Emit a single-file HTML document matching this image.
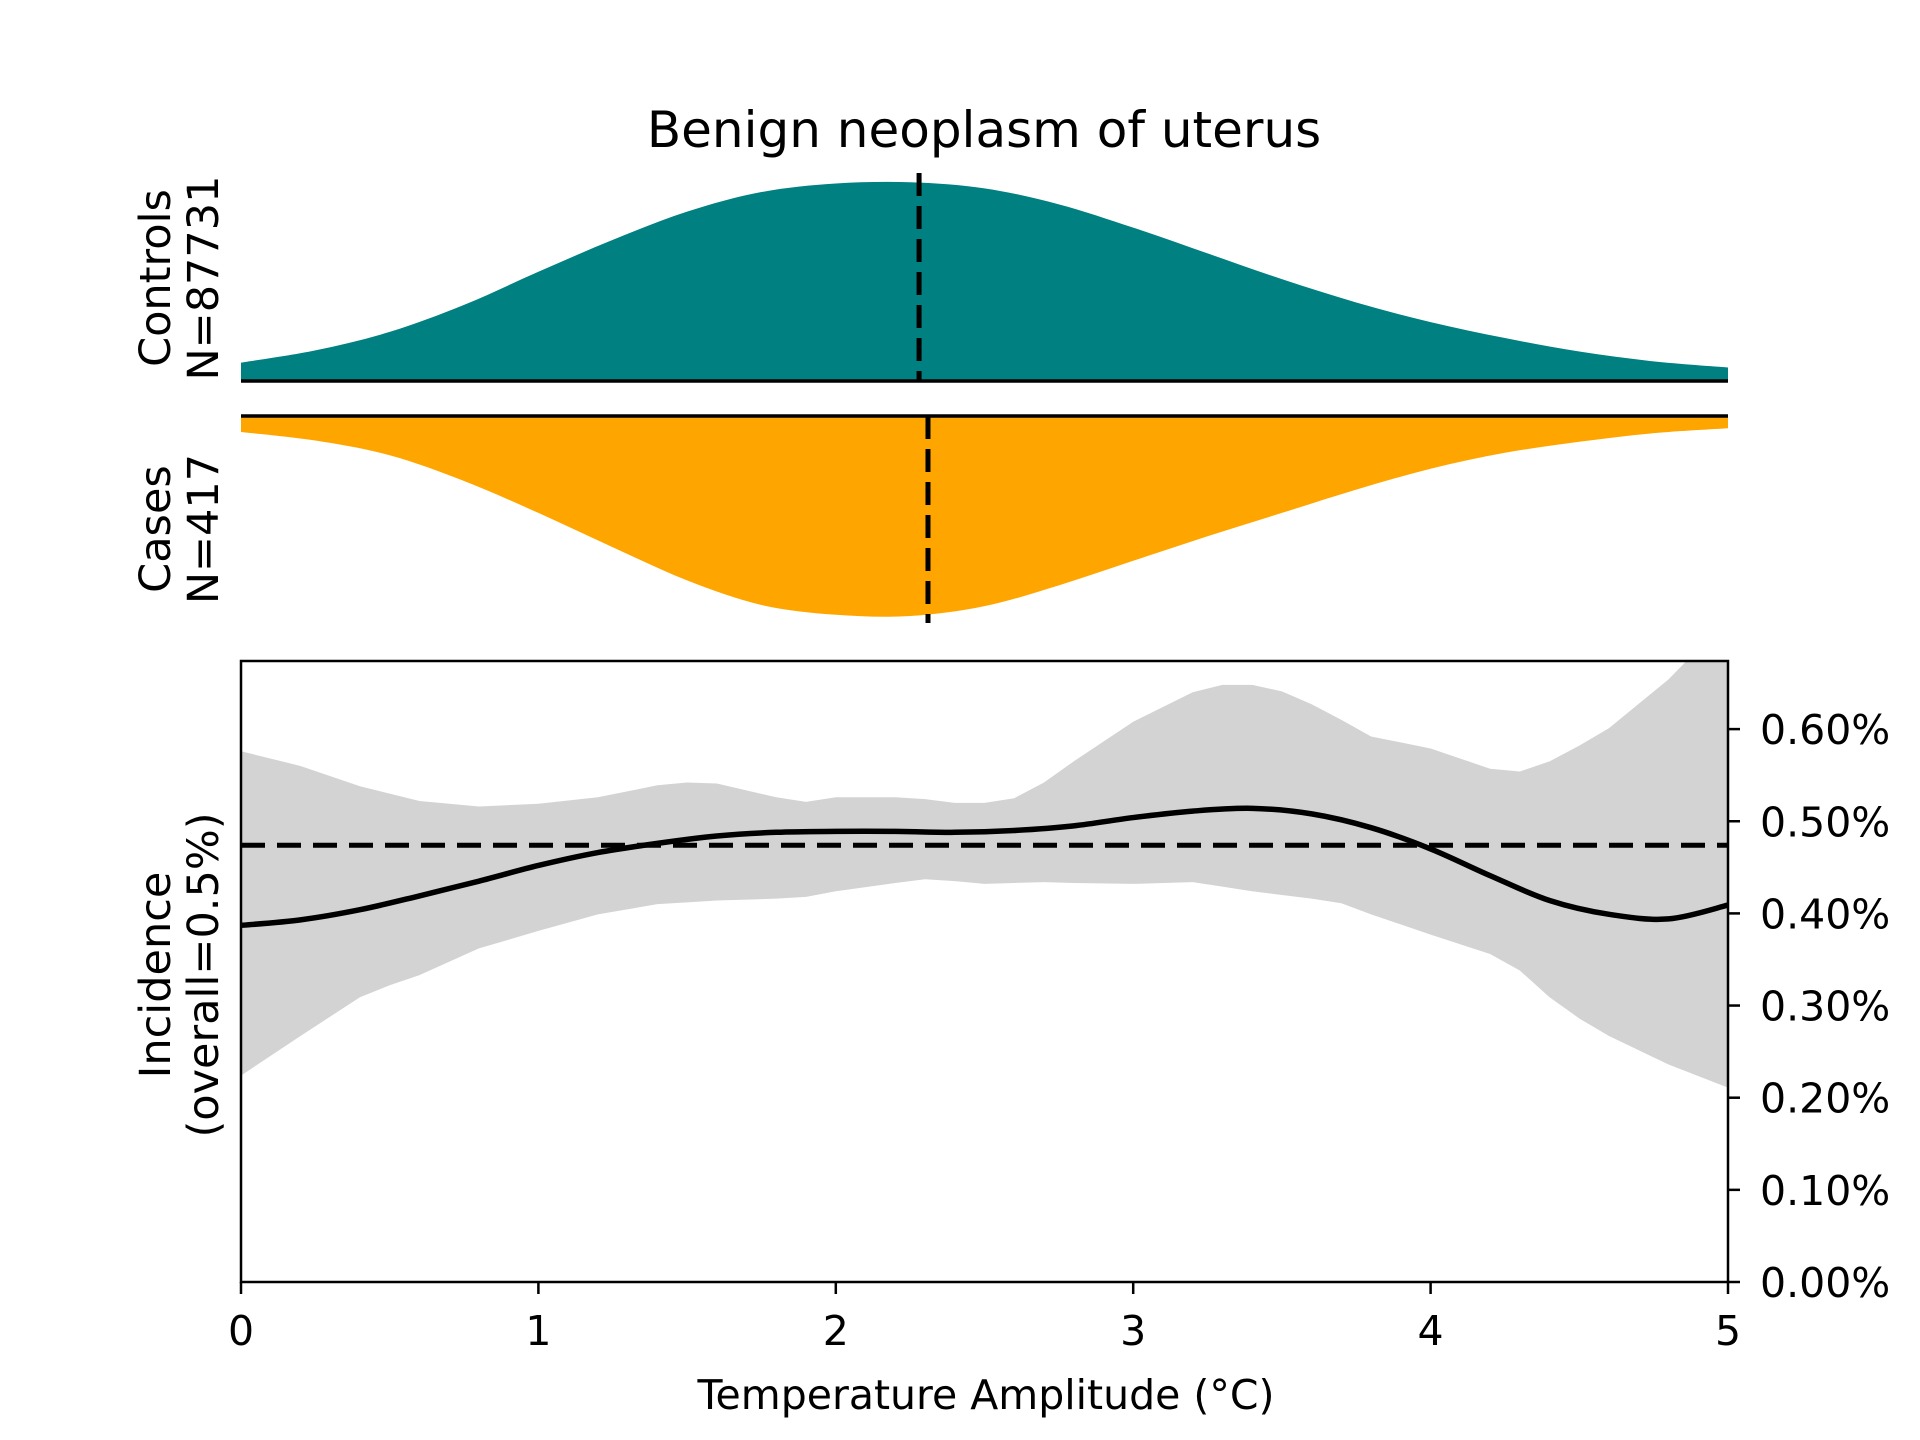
<!DOCTYPE html>
<html><head><meta charset="utf-8"><style>html,body{margin:0;padding:0;background:#fff}svg{display:block}text{font-family:"DejaVu Sans","Liberation Sans",sans-serif;fill:#000}</style></head>
<body>
<svg id="chart" width="1920" height="1440" viewBox="0 0 1920 1440" xmlns="http://www.w3.org/2000/svg">
<defs><clipPath id="clip"><rect x="241" y="661" width="1487" height="621"/></clipPath></defs>
<text x="984" y="147" font-size="50" text-anchor="middle">Benign neoplasm of uterus</text>
<g id="topPanel"></g>
<g id="bottomPanel"></g>
<text transform="translate(170,278) rotate(-90)" font-size="43" text-anchor="middle">Controls</text>
<text transform="translate(218,278) rotate(-90)" font-size="43" text-anchor="middle">N=87731</text>
<text transform="translate(170,529) rotate(-90)" font-size="43" text-anchor="middle">Cases</text>
<text transform="translate(218,529) rotate(-90)" font-size="43" text-anchor="middle">N=417</text>
<text transform="translate(170,975) rotate(-90)" font-size="43" text-anchor="middle">Incidence</text>
<text transform="translate(218,975) rotate(-90)" font-size="43" text-anchor="middle">(overall=0.5%)</text>
<text x="986" y="1409" font-size="41" text-anchor="middle">Temperature Amplitude (°C)</text>
</svg>
<script>
const xs=[0,0.25,0.5,0.75,1,1.25,1.5,1.75,2,2.25,2.5,2.75,3,3.25,3.5,3.75,4,4.25,4.5,4.75,5];
const controlsDensity=[15,25,40,62,89,115,138,154,161,162,157,144,125,104,83,64,48,35,24,16,11];
const casesDensity=[13,20,32,53,79,107,134,154,162,163,155,138,118,98,79,60,43,30,21,14,10];
const controlsMedian=2.28, casesMedian=2.31;
const bandX=[0,0.2,0.4,0.5,0.6,0.8,1.0,1.2,1.4,1.5,1.6,1.8,1.9,2.0,2.2,2.3,2.4,2.5,2.6,2.7,2.8,3.0,3.2,3.3,3.4,3.5,3.6,3.7,3.8,4.0,4.2,4.3,4.4,4.5,4.6,4.8,5.0];
const incUpper=[0.576,0.56,0.538,0.530,0.522,0.516,0.519,0.526,0.539,0.542,0.541,0.526,0.521,0.526,0.526,0.524,0.520,0.520,0.525,0.542,0.565,0.608,0.640,0.648,0.648,0.641,0.627,0.610,0.592,0.579,0.557,0.554,0.565,0.582,0.601,0.654,0.72];
const incLower=[0.224,0.267,0.309,0.322,0.333,0.362,0.381,0.399,0.410,0.412,0.414,0.416,0.418,0.424,0.433,0.437,0.435,0.432,0.433,0.434,0.433,0.432,0.434,0.429,0.424,0.420,0.416,0.411,0.399,0.377,0.356,0.338,0.309,0.286,0.267,0.236,0.211];
const meanX=[0,0.2,0.4,0.6,0.8,1.0,1.2,1.4,1.6,1.8,2.0,2.2,2.4,2.6,2.8,3.0,3.2,3.4,3.6,3.8,4.0,4.2,4.4,4.6,4.8,5.0];
const incMean=[0.387,0.393,0.404,0.419,0.435,0.452,0.466,0.476,0.484,0.488,0.489,0.489,0.488,0.490,0.495,0.504,0.511,0.514,0.508,0.493,0.470,0.441,0.414,0.399,0.394,0.409];
const overall=0.474;
const yTicks=[0,0.1,0.2,0.3,0.4,0.5,0.6];
const xTicks=[0,1,2,3,4,5];
const NS='http://www.w3.org/2000/svg';
const X=v=>241+v*297.4;
const Y=v=>1282-v*921.5;
const DS=200/163;
function mk(p,tag,a){const e=document.createElementNS(NS,tag);for(const k in a)e.setAttribute(k,a[k]);p.appendChild(e);return e;}
function smooth(pts){let d='M'+pts[0][0]+','+pts[0][1];for(let i=0;i<pts.length-1;i++){const p0=pts[Math.max(0,i-1)],p1=pts[i],p2=pts[i+1],p3=pts[Math.min(pts.length-1,i+2)];d+=' C'+(p1[0]+(p2[0]-p0[0])/6)+','+(p1[1]+(p2[1]-p0[1])/6)+' '+(p2[0]-(p3[0]-p1[0])/6)+','+(p2[1]-(p3[1]-p1[1])/6)+' '+p2[0]+','+p2[1];}return d;}
const CB=381, KB=416;
const tp=document.getElementById('topPanel');
const cPts=xs.map((x,i)=>[X(x),CB-controlsDensity[i]*DS]);
let e=mk(tp,'path',{d:smooth(cPts)+' L'+X(5)+','+CB+' L'+X(0)+','+CB+' Z',fill:'#008080'});


const kPts=xs.map((x,i)=>[X(x),KB+casesDensity[i]*DS]);
e=mk(tp,'path',{d:smooth(kPts)+' L'+X(5)+','+KB+' L'+X(0)+','+KB+' Z',fill:'#ffa500'});


e=mk(tp,'line',{x1:241,x2:1728,y1:CB,y2:CB,stroke:'#000','stroke-width':3.5});


e=mk(tp,'line',{x1:241,x2:1728,y1:KB,y2:KB,stroke:'#000','stroke-width':3.5});


e=mk(tp,'line',{x1:X(controlsMedian),x2:X(controlsMedian),y1:173,y2:CB,stroke:'#000','stroke-width':5,'stroke-dasharray':'23,10'});


e=mk(tp,'line',{x1:X(casesMedian),x2:X(casesMedian),y1:KB,y2:623,stroke:'#000','stroke-width':5,'stroke-dasharray':'23,10'});


const bp=document.getElementById('bottomPanel');
const g=mk(bp,'g',{'clip-path':'url(#clip)'});
const up=bandX.map((x,i)=>X(x)+','+Y(incUpper[i])).join(' L');
const lo=bandX.slice().reverse().map((x,j)=>X(x)+','+Y(incLower[bandX.length-1-j])).join(' L');
e=mk(g,'path',{d:'M'+up+' L'+lo+' Z',fill:'#d3d3d3'});


e=mk(g,'line',{x1:241,x2:1728,y1:Y(overall),y2:Y(overall),stroke:'#000','stroke-width':5,'stroke-dasharray':'24,12'});


e=mk(g,'path',{d:smooth(meanX.map((x,i)=>[X(x),Y(incMean[i])])),fill:'none',stroke:'#000','stroke-width':5.5});


e=mk(bp,'rect',{x:241,y:661,width:1487,height:621,fill:'none',stroke:'#000','stroke-width':2.5});


yTicks.forEach(t=>{
 let l=mk(bp,'line',{x1:1728,x2:1740,y1:Y(t),y2:Y(t),stroke:'#000','stroke-width':2.5});
 
 
 let tx=mk(bp,'text',{x:1760,y:Y(t)+15,'font-size':41});tx.textContent=t.toFixed(2)+'%';
 
 
});
xTicks.forEach(t=>{
 let l=mk(bp,'line',{x1:X(t),x2:X(t),y1:1282,y2:1294,stroke:'#000','stroke-width':2.5});
 
 
 let tx=mk(bp,'text',{x:X(t),y:1345,'font-size':41,'text-anchor':'middle'});tx.textContent=t;
 
 
});
</script>
</body></html>
